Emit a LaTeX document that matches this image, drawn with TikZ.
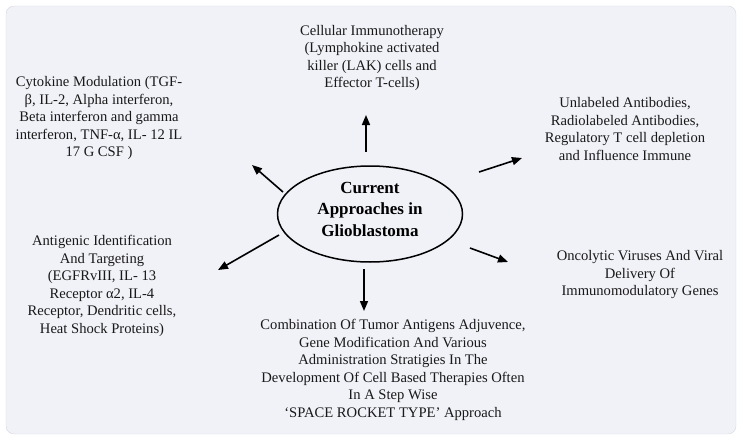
\documentclass[tikz,border=0pt]{standalone}
\usepackage{fontspec}
\setmainfont{Liberation Serif}
\usetikzlibrary{shapes.geometric,arrows.meta}
\definecolor{panelbg}{HTML}{F1F2F8}
\definecolor{panelrule}{HTML}{D6D8E0}
\tikzset{
lbl/.style={align=center,font=\fontsize{14.6}{17.5}\selectfont,text=black!90},
arr/.style={-{Triangle[length=10pt,width=8pt]},line width=1.6pt},
}
\begin{document}
\begin{tikzpicture}[x=1pt,y=-1pt]
\useasboundingbox(0,0)rectangle(743,441);
\draw[panelrule,fill=panelbg,rounded corners=8pt](6,6)rectangle(736,434);
% centre
\node[ellipse,draw,line width=1.5pt,minimum width=185pt,minimum height=96pt](core)at(370,214){};
\node[align=center,font=\bfseries\fontsize{17}{21.5}\selectfont](corelbl)at(370,209){Current\\Approaches in\\Glioblastoma};
% approaches
\node[lbl](cell)at(372,58){Cellular Immunotherapy\\(Lymphokine activated\\killer (LAK) cells and\\Effector T-cells)};
\node[lbl](cyto)at(99,118){Cytokine Modulation (TGF-\\β, IL-2, Alpha interferon,\\Beta interferon and gamma\\interferon, TNF-α, IL- 12 IL\\17 G CSF )};
\node[lbl](unlab)at(625,129){Unlabeled Antibodies,\\Radiolabeled Antibodies,\\Regulatory T cell depletion\\and Influence Immune};
\node[lbl](onco)at(640,275){Oncolytic Viruses And Viral\\Delivery Of\\Immunomodulatory Genes};
\node[lbl](anti)at(102,286){Antigenic Identification\\And Targeting\\(EGFRvIII, IL- 13\\Receptor α2, IL-4\\Receptor, Dendritic cells,\\Heat Shock Proteins)};
\node[lbl](comb)at(393,370){Combination Of Tumor Antigens Adjuvence,\\Gene Modification And Various\\Administration Stratigies In The\\Development Of Cell Based Therapies Often\\In A Step Wise\\‘SPACE ROCKET TYPE’ Approach};
% arrow ends
\coordinate(upT)at(366,152);\coordinate(upH)at(366,115);
\coordinate(ulT)at(283,192);\coordinate(ulH)at(252,165);
\coordinate(urT)at(479,172);\coordinate(urH)at(522,158);
\coordinate(lrT)at(470,248);\coordinate(lrH)at(508,262);
\coordinate(dnT)at(364,269);\coordinate(dnH)at(364,311);
\coordinate(llT)at(279,235);\coordinate(llH)at(218,270);
\foreach \a in {up,ul,ur,lr,dn,ll}{\draw[arr](\a T)--(\a H);}
\end{tikzpicture}
\end{document}
